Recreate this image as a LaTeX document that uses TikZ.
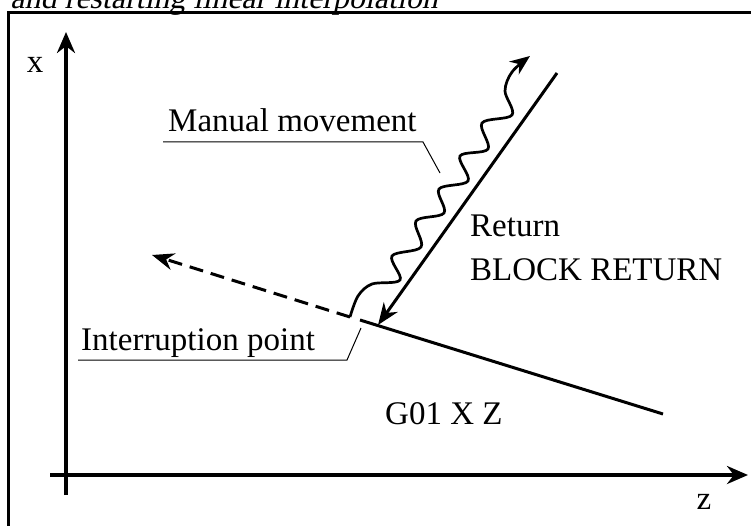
\documentclass[tikz,border=0pt]{standalone}
\usepackage{fontspec}
\setmainfont{Liberation Serif}
\newfontfamily\titlefont{Liberation Serif}[FakeSlant=0.21]
\usetikzlibrary{arrows.meta}
\begin{document}
\begin{tikzpicture}[x=1pt,y=-1pt,
  lbl/.style={font=\fontsize{33}{40}\selectfont, inner sep=0pt},
  axisline/.style={line width=4pt},
  mainline/.style={line width=3pt},
  leader/.style={line width=1pt},
  frameline/.style={line width=3pt},
  bigtip/.style={-{Stealth[length=21pt,width=18pt]}},
  midtip/.style={-{Stealth[length=22pt,width=17pt]}},
  smalltip/.style={-{Stealth[length=20pt,width=16pt]}}]
\useasboundingbox (0,0) rectangle (751,526);
\clip (0,0) rectangle (751,526);
% title (cut off by the frame)
\node[inner sep=0pt, font=\fontsize{32}{40}\titlefont, anchor=base east] (title) at (438,9) {and restarting linear interpolation};
% frame
\draw[frameline] (8,530) -- (8,13) -- (760,13);
% axes
\coordinate (xbot) at (66,495);
\coordinate (xtop) at (66,32);
\coordinate (zleft) at (50,475);
\coordinate (zright) at (748,475);
\draw[axisline,bigtip] (xbot) -- (xtop);
\draw[axisline,bigtip] (zleft) -- (zright);
\node[lbl] (xlab) at (35,65) {x};
\node[lbl] (zlab) at (704,502) {z};
% G01 path
\coordinate (ip) at (360,320);
\coordinate (gend) at (663,414);
\draw[mainline] (ip) -- (gend);
% dashed continuation
\coordinate (dend) at (350,317);
\coordinate (dtip) at (152,255);
\draw[mainline, dash pattern=on 14pt off 8pt, midtip] (dend) -- (dtip);
% return
\coordinate (rtop) at (557,73);
\coordinate (rtip) at (378,325);
\draw[mainline, midtip] (rtop) -- (rtip);
% manual movement wave
\draw[line width=2.7pt, smalltip] plot[smooth, tension=0.55] coordinates {
  (350,317) (358,296) (372,284) (400,280) (392,256) (421,247) (416,221)
  (444,213) (439,189) (468,181) (460,156) (488,149) (482,123) (512,115)
  (505,91) (512,72) (530,56)};
% labels
\node[lbl, anchor=base west] (mm) at (168,132) {Manual movement};
\draw[leader] (163,142) -- (423,142) -- (440,173);
\node[lbl, anchor=base west] (ret) at (470,237) {Return};
\node[lbl, anchor=base west] (blk) at (470,280) {BLOCK RETURN};
\node[lbl, anchor=base west] (g01) at (385,424) {G01 X Z};
\node[lbl, anchor=base west] (intp) at (81,350) {Interruption point};
\draw[leader] (78,360) -- (347,360) -- (361,328);
\end{tikzpicture}
\end{document}
